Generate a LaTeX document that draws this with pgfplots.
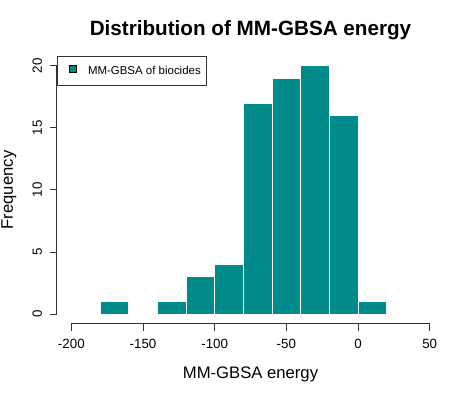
\documentclass[border=0pt]{standalone}
\usepackage{fontspec}
\setmainfont{Liberation Sans}
\usepackage{pgfplots}
\pgfplotsset{compat=1.18}
\definecolor{bar}{HTML}{008B8B}
\definecolor{axc}{HTML}{333333}
\begin{document}
\begin{tikzpicture}
\useasboundingbox (0,0) rectangle (355.5pt,296.25pt);
\begin{axis}[
  at={(42.75pt,53.25pt)}, anchor=south west,
  scale only axis, width=290.25pt, height=201pt,
  xmin=-210, xmax=60, ymin=-0.8, ymax=20.8,
  clip=false,
  axis x line*=bottom, axis y line*=left,
  axis line style={draw=none},
  tick align=outside, major tick length=5.25pt,
  major tick style={axc, line width=0.75pt},
  xtick={-200,-150,-100,-50,0,50},
  xticklabels={-200,-150,-100,-50,0,50},
  ytick={0,5,10,15,20},
  yticklabels={0,5,10,15,20},
  ticklabel style={font=\fontsize{10}{12}\selectfont},
  xticklabel style={anchor=base},
  xticklabel shift=13pt,
  yticklabel style={anchor=base, rotate=90},
  yticklabel shift=6pt,
  every axis title shift=0pt,
  title={Distribution of MM-GBSA energy},
  title style={font=\fontsize{15.5}{18}\selectfont\bfseries, at={(axis description cs:0.5,1)}, anchor=base, yshift=15pt},
  xlabel={MM-GBSA energy},
  xlabel style={font=\fontsize{12.5}{15}\selectfont, at={([yshift=-41.25pt]axis description cs:0.5,0)}, anchor=base},
  ylabel={Frequency},
  ylabel style={font=\fontsize{12.5}{15}\selectfont, at={([xshift=-33pt]axis description cs:0,0.5)}, anchor=base, rotate=0},
  legend style={at={(axis description cs:0,1)}, anchor=north west, draw=axc, line width=0.75pt,
    inner xsep=4.5pt, inner ysep=6.5pt,
    nodes={inner sep=0pt, text height=6.2pt, text depth=1.8pt, font=\fontsize{8.6}{10}\selectfont},
    /tikz/every odd column/.append style={column sep=8.8pt}},
  legend cell align=left,
  legend image code/.code={\path (-3.75pt,0);\draw[fill=bar, draw=black, line width=0.4pt] (0pt,-0.4pt) rectangle (5.25pt,4.85pt);},
]
\addplot[ybar interval, fill=bar, draw=white, line width=0.75pt] coordinates {
  (-180,1) (-160,0) (-140,1) (-120,3) (-100,4) (-80,17) (-60,19) (-40,20) (-20,16) (0,1) (20,1)};
\addlegendentry{MM-GBSA of biocides}
\draw[axc, line width=0.75pt] (axis cs:-200,-0.8) -- (axis cs:50,-0.8);
\draw[axc, line width=0.75pt] (axis cs:-210,0) -- (axis cs:-210,20);
\end{axis}
\end{tikzpicture}
\end{document}
